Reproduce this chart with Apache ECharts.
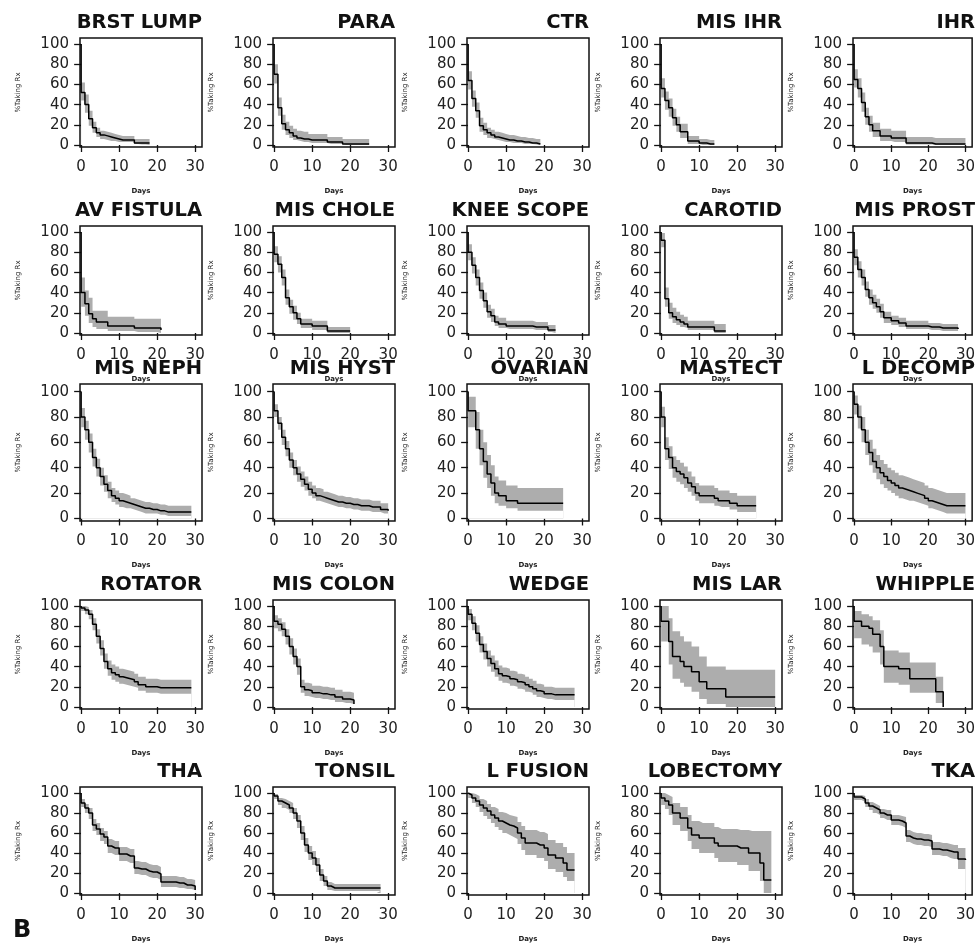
<!DOCTYPE html>
<html>
<head>
<meta charset="utf-8">
<script src="https://cdn.jsdelivr.net/npm/echarts@6/dist/echarts.min.js"></script>
<style>
html, body { margin: 0; padding: 0; background: #fff; }
#main { width: 978px; height: 944px; }
</style>
</head>
<body>
<div id="main"></div>
<script>
// panel titles, row by row
var titles = ['BRST LUMP', 'PARA', 'CTR', 'MIS IHR', 'IHR',
    'AV FISTULA', 'MIS CHOLE', 'KNEE SCOPE', 'CAROTID', 'MIS PROST',
    'MIS NEPH', 'MIS HYST', 'OVARIAN', 'MASTECT', 'L DECOMP',
    'ROTATOR', 'MIS COLON', 'WEDGE', 'MIS LAR', 'WHIPPLE',
    'THA', 'TONSIL', 'L FUSION', 'LOBECTOMY', 'TKA'];

// % still taking Rx at day 0,1,2,... (curve starts at 100 on day 0)
var surv = [
    [52,40,26,17,12,10,9,8,7,6,5,5,5,5,2,2,2,2,2],
    [70,37,21,15,12,9,7,6,6,5,5,5,5,5,3,3,3,3,1,1,1,1,1,1,1,1],
    [64,46,34,19,15,12,10,8,7,6,5,5,4,4,3,3,2,2,1,1],
    [56,44,37,27,20,13,13,4,4,4,2,2,1,1,1],
    [65,56,42,28,20,14,14,9,9,9,7,7,7,7,2,2,2,2,2,2,2,1,1,1,1,1,1,1,1,1,1],
    [40,29,19,14,11,11,11,7,7,7,7,7,7,7,5,5,5,5,5,5,5,3],
    [78,68,55,35,26,20,14,9,9,9,7,7,7,7,2,2,2,2,2,2,2],
    [80,67,55,42,32,21,17,11,9,9,7,7,7,7,7,7,7,6,6,6,6,3,3,3],
    [92,34,20,16,13,11,9,6,6,6,6,6,6,6,2,2,2,2],
    [75,63,55,43,35,30,26,21,15,15,12,12,10,10,7,7,7,7,7,7,6,6,6,5,5,5,5,5,4],
    [80,70,60,48,40,33,27,22,18,16,14,13,12,11,10,9,8,8,7,7,6,6,5,5,5,5,5,5,5,5],
    [85,75,64,55,46,40,35,31,27,23,20,18,17,16,15,14,13,13,12,12,11,11,10,10,10,9,9,9,7,7,6],
    [85,85,70,55,45,35,28,20,18,18,14,14,14,12,12,12,12,12,12,12,12,12,12,12,12,12],
    [80,55,48,40,37,35,32,28,25,20,18,18,18,18,16,14,14,14,12,12,10,10,10,10,10,10],
    [90,80,70,60,52,45,40,36,33,30,28,26,24,23,22,21,20,19,18,16,14,13,12,11,10,10,10,10,10,10,10],
    [98,96,92,82,70,58,45,38,34,32,30,29,28,27,25,22,22,20,20,20,19,19,19,19,19,19,19,19,19,19],
    [85,82,77,70,60,50,40,20,17,16,14,14,13,13,12,12,10,10,8,8,7,3],
    [92,83,73,62,55,48,43,38,33,31,30,28,27,25,24,22,20,18,16,15,13,13,12,12,12,12,12,12,12],
    [85,85,65,50,50,45,40,40,35,35,25,25,18,18,18,18,18,10,10,10,10,10,10,10,10,10,10,10,10,10,10],
    [85,85,80,80,78,72,72,60,40,40,40,40,38,38,38,28,28,28,28,28,28,28,15,15,0],
    [90,85,80,68,64,59,56,47,45,45,39,39,37,37,25,24,24,22,21,21,19,11,11,11,11,10,10,8,8,7,3],
    [97,92,90,88,85,80,72,60,48,40,35,28,18,12,7,5,5,5,5,5,5,5,5,5,5,5,5,5,5],
    [98,95,92,88,85,82,78,75,72,70,68,67,65,60,55,50,50,50,48,48,45,38,38,35,35,30,23,23,23],
    [95,92,88,80,80,75,75,65,58,58,55,55,55,55,50,47,47,47,47,47,45,45,45,40,40,40,30,13,13,13],
    [96,96,94,90,87,85,83,80,78,78,73,73,72,70,57,55,54,54,53,53,52,44,44,43,43,42,41,41,34,34,33]
];

// upper confidence limit, same days
var upper = [
    [62,50,34,23,17,14,13,12,11,10,9,9,9,9,6,6,6,6,6],
    [80,47,30,23,19,16,14,13,13,11,11,11,11,11,8,8,8,8,6,6,6,6,6,6,6,6],
    [73,54,42,27,22,17,15,13,12,11,10,10,9,8,8,7,7,6,6,6],
    [66,53,46,36,28,21,21,9,9,9,6,6,5,5,5],
    [75,66,52,37,29,22,22,16,16,16,14,14,14,14,8,8,8,8,8,8,8,7,7,7,7,7,7,7,7,7,7],
    [55,42,35,22,22,22,22,16,16,16,16,16,16,16,14,14,14,14,14,14,14,13],
    [86,76,63,43,33,27,20,14,14,14,12,12,12,12,6,6,6,6,6,6,6],
    [88,75,63,50,40,28,24,17,15,15,12,12,12,12,12,12,12,11,11,11,11,8,8,8],
    [99,45,30,25,21,18,16,12,12,12,12,12,12,12,9,9,9,9],
    [83,71,63,51,43,38,34,29,21,21,17,17,15,15,12,12,12,12,12,12,10,10,10,9,9,9,9,9,9],
    [87,77,67,55,47,40,34,29,24,22,20,19,18,16,15,14,13,13,12,12,11,11,10,10,10,10,10,10,10,10],
    [90,80,70,61,52,46,41,37,33,29,26,24,23,21,20,19,18,18,17,17,16,16,15,15,15,14,14,14,12,12,11],
    [96,96,84,70,60,50,42,33,30,30,26,26,26,24,24,24,24,24,24,24,24,24,24,24,24,24],
    [88,64,57,49,46,44,41,37,33,28,26,26,26,26,24,22,22,22,20,20,18,18,18,18,18,18],
    [97,89,80,70,62,55,50,46,43,40,38,36,34,33,32,31,30,29,28,26,24,23,22,21,20,20,20,20,20,20,20],
    [100,99,96,88,77,66,53,46,42,40,38,37,36,35,33,30,30,28,28,28,27,27,27,27,27,27,27,27,27,27],
    [91,88,84,77,68,58,48,27,24,23,21,21,20,20,19,19,17,17,15,15,14,9],
    [97,90,81,70,63,56,51,46,41,39,38,36,35,33,32,30,28,26,23,22,20,20,19,19,19,19,19,19,19],
    [100,100,88,75,75,70,65,65,60,60,50,50,40,40,40,40,40,37,37,37,37,37,37,37,37,37,37,37,37,37,37],
    [95,95,92,92,90,86,86,76,56,56,56,56,54,54,54,44,44,44,44,44,44,44,30,30,15],
    [94,89,85,74,70,65,62,54,52,52,46,46,44,44,32,31,31,29,28,28,26,17,17,17,17,16,16,14,14,13,8],
    [99,95,94,92,90,85,78,67,55,47,42,35,24,17,11,9,9,9,9,9,9,9,9,9,9,9,9,9,9],
    [100,99,97,94,92,89,86,84,81,80,78,77,76,71,67,63,63,63,61,61,59,53,53,50,50,46,40,40,40],
    [100,98,96,90,90,86,86,78,72,72,70,70,70,70,66,64,64,64,64,64,63,63,63,62,62,62,62,62,62,62],
    [98,98,97,94,91,89,87,84,83,83,78,78,77,76,63,61,60,60,59,59,58,51,51,50,50,49,48,48,45,45,45]
];

// lower confidence limit, same days
var lower = [
    [44,32,19,12,8,6,5,4,4,3,3,3,3,3,1,0.5,0.5,0.5,0.5],
    [61,29,15,10,7,5,4,3,3,2,2,2,2,2,1,1,1,1,0,0,0,0,0,0,0,0],
    [55,38,27,13,10,7,6,5,4,3,3,2,2,2,1,1,1,0.5,0.5,0],
    [47,35,28,19,13,7,7,1,1,1,0,0,0,0,0],
    [57,47,33,20,13,8,8,4,4,4,3,3,3,3,0.5,0.5,0.5,0.5,0.5,0.5,0.5,0,0,0,0,0,0,0,0,0,0],
    [26,17,10,6,4,4,4,2,2,2,2,2,2,2,1,1,1,1,1,1,1,0.5],
    [70,60,47,28,19,13,9,5,5,5,3,3,3,3,0,0,0,0,0,0,0],
    [72,59,47,34,25,15,11,7,5,5,4,4,4,4,4,4,4,3,3,3,3,1,1,1],
    [85,26,14,10,8,6,5,3,3,3,3,3,3,3,0,0,0,0],
    [67,55,47,36,28,24,20,15,10,10,8,8,6,6,4,4,4,4,4,4,3,3,3,2,2,2,2,2,1],
    [72,62,52,41,33,26,21,16,13,11,9,8,8,7,6,5,4,4,4,4,3,3,2,2,2,2,2,2,2,2],
    [80,70,58,49,40,34,29,25,22,18,16,14,13,12,11,10,9,9,8,8,7,7,6,6,6,5,5,5,4,4,3],
    [72,72,55,42,32,24,18,12,10,10,8,8,8,6,6,6,6,6,6,6,6,6,6,6,6,6],
    [72,46,39,32,29,27,24,21,18,14,12,12,12,12,10,9,9,9,7,7,5,5,5,5,5,5],
    [82,71,60,50,42,36,31,27,24,22,20,18,16,15,14,14,13,12,11,10,8,7,6,5,4,4,4,4,4,4,4],
    [95,92,87,76,63,51,38,31,27,25,23,22,21,20,19,16,16,14,14,14,13,13,13,13,13,13,13,13,13,13],
    [78,75,70,62,52,42,32,14,11,10,9,9,8,8,7,7,5,5,4,4,3,0],
    [86,76,65,54,47,40,35,30,26,24,23,21,20,18,17,15,14,12,10,9,8,8,7,7,7,7,7,7,7],
    [65,65,42,28,28,24,20,20,15,15,8,8,3,3,3,3,3,0,0,0,0,0,0,0,0,0,0,0,0,0,0],
    [68,68,62,62,60,54,54,42,24,24,24,24,22,22,22,14,14,14,14,14,14,14,4,4,0],
    [86,80,74,62,58,52,49,40,38,38,32,32,30,30,19,18,18,16,15,15,13,6,6,6,6,5,5,4,4,3,0],
    [94,88,85,83,80,74,65,53,41,33,28,21,12,7,3,2,2,2,2,2,2,2,2,2,2,2,2,2,2],
    [95,90,86,81,77,74,70,66,63,60,58,56,54,49,43,38,38,38,35,35,32,24,24,21,21,16,12,12,12],
    [88,84,78,68,68,62,62,52,44,44,40,40,40,40,35,31,31,31,31,31,28,28,28,22,22,22,12,0,0,0],
    [93,93,91,86,83,80,78,75,73,73,68,68,67,65,51,49,48,48,47,47,46,38,38,37,37,35,34,34,24,24,24]
];

var xTicks = [0, 10, 20, 30];
var yTicks = [0, 20, 40, 60, 80, 100];

var colLeft = [80, 273, 467, 660, 853];
var rowTop = [38, 226, 384, 600, 787];
var rowH = [109, 109, 137, 109, 109];
var boxW = 122;
var bandColor = '#adadad';
var font = 'DejaVu Sans';

var myChart = echarts.init(document.getElementById('main'));

function toPoints(arr) {
    return arr.map(function (v, d) { return [d, v]; });
}

var grids = [], xAxes = [], yAxes = [], titleList = [], series = [];

titles.forEach(function (name, i) {
    var r = Math.floor(i / 5), c = i % 5;
    grids.push({
        left: colLeft[c], top: rowTop[r], width: boxW, height: rowH[r],
        show: true, borderColor: '#111', borderWidth: 1.5, backgroundColor: 'transparent'
    });
    xAxes.push({
        type: 'value', gridIndex: i, min: -0.3, max: 31.8,
        axisLine: { show: false }, splitLine: { show: false },
        axisTick: { show: true, customValues: xTicks, length: 7, lineStyle: { color: '#111', width: 1.3 } },
        axisLabel: { customValues: xTicks, margin: 13, fontSize: 15, color: '#222', fontFamily: font },
        name: 'Days', nameLocation: 'middle', nameGap: 41,
        nameTextStyle: { fontSize: 7, fontWeight: 'bold', color: '#222', fontFamily: font }
    });
    yAxes.push({
        type: 'value', gridIndex: i, min: -2, max: 106,
        axisLine: { show: false }, splitLine: { show: false },
        axisTick: { show: true, customValues: yTicks, length: 7, lineStyle: { color: '#111', width: 1.3 } },
        axisLabel: { customValues: yTicks, margin: 11, fontSize: 15, color: '#222', fontFamily: font },
        name: '%Taking Rx', nameLocation: 'middle', nameGap: 58,
        nameTextStyle: { fontSize: 7, color: '#222', fontFamily: font }
    });
    titleList.push({
        text: name, right: 978 - (colLeft[c] + boxW), top: rowTop[r] - 25, padding: 0,
        textStyle: { fontSize: 19.5, fontWeight: 'bold', color: '#111', fontFamily: font }
    });
    // confidence band: gray to the upper limit, whited out below the lower limit
    series.push({
        type: 'line', xAxisIndex: i, yAxisIndex: i, step: 'end', symbol: 'none', silent: true,
        data: toPoints(upper[i]), lineStyle: { opacity: 0 },
        areaStyle: { color: bandColor, opacity: 1 }, z: 1
    });
    series.push({
        type: 'line', xAxisIndex: i, yAxisIndex: i, step: 'end', symbol: 'none', silent: true,
        data: toPoints(lower[i]), lineStyle: { opacity: 0 },
        areaStyle: { color: '#fff', opacity: 1 }, z: 2
    });
    series.push({
        type: 'line', xAxisIndex: i, yAxisIndex: i, step: 'end', symbol: 'none', silent: true,
        data: [[0, 100]].concat(toPoints(surv[i])),
        lineStyle: { color: '#000', width: 1.5 }, z: 3
    });
});

var option = {
    animation: false,
    backgroundColor: '#fff',
    title: titleList,
    grid: grids,
    xAxis: xAxes,
    yAxis: yAxes,
    series: series,
    graphic: [{
        type: 'text', left: 13, top: 919,
        style: { text: 'B', font: 'bold 24px "DejaVu Sans"', fill: '#111' }
    }]
};

myChart.setOption(option);
</script>
</body>
</html>
